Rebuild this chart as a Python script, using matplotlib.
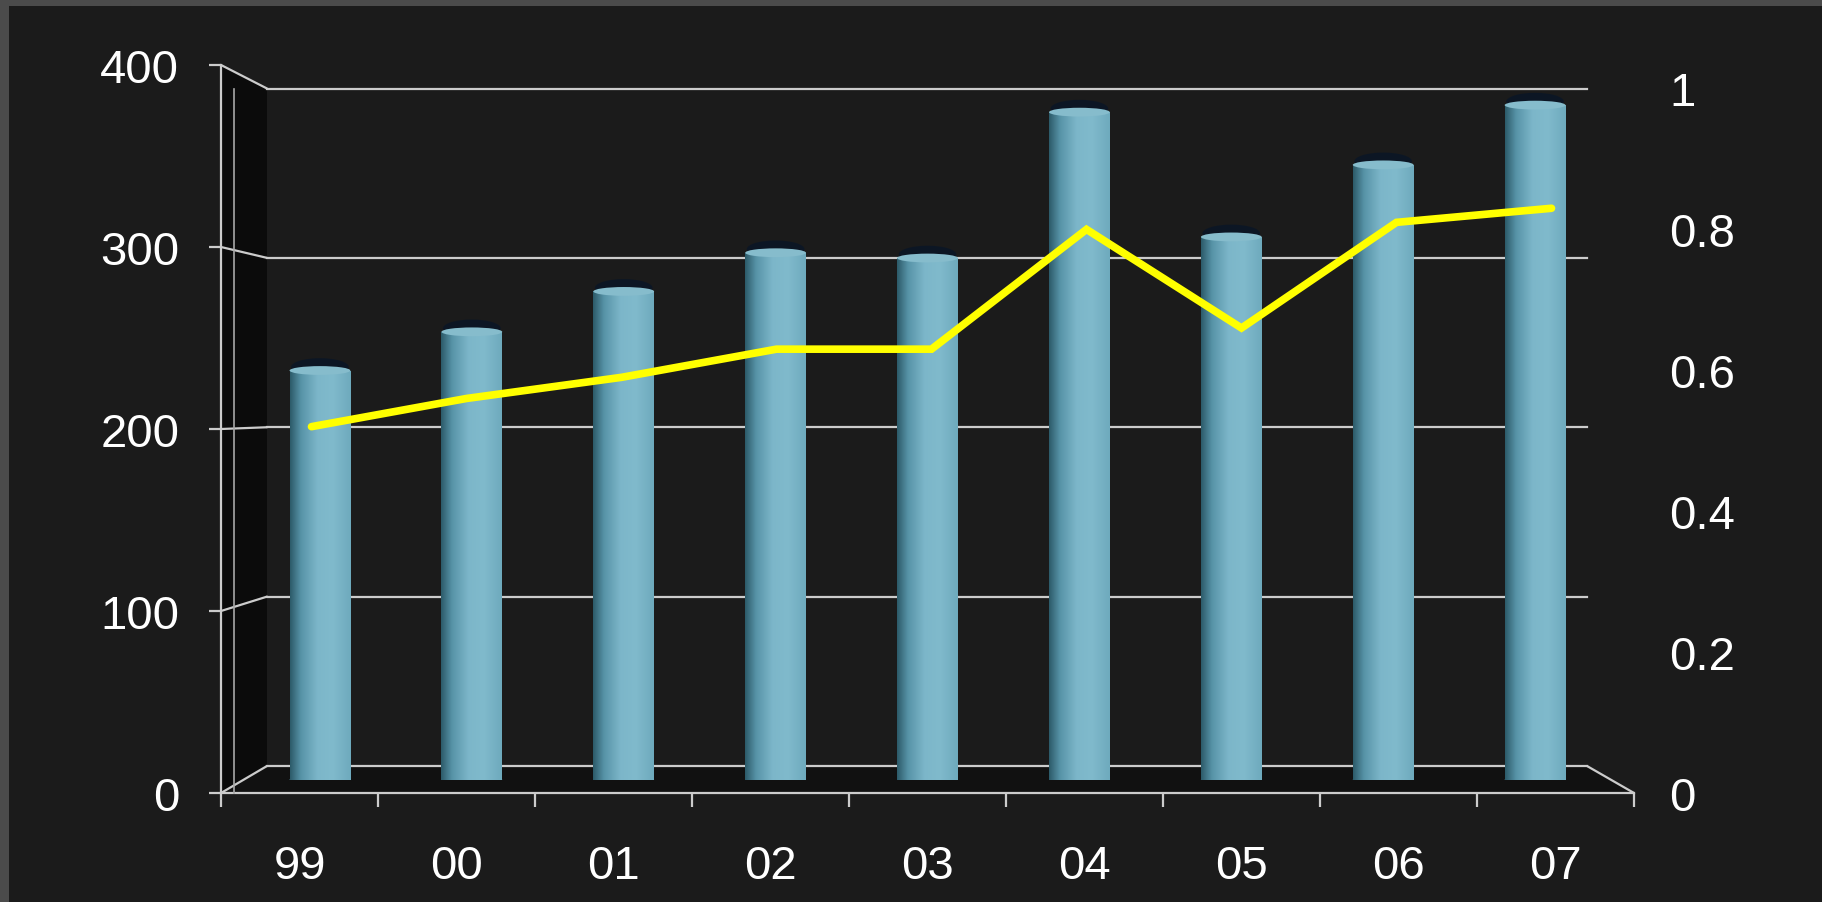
import numpy as np
import matplotlib.pyplot as plt
from matplotlib.patches import Ellipse, Polygon, Rectangle, ConnectionPatch
from matplotlib.colors import LinearSegmentedColormap

# yearly values: columns on the left scale, line on the right scale
years = ['99', '00', '01', '02', '03', '04', '05', '06', '07']
volume = [233, 255, 278, 300, 297, 380, 309, 350, 384]
ratio = [0.52, 0.56, 0.59, 0.63, 0.63, 0.80, 0.66, 0.81, 0.83]

left_ticks = [0, 100, 200, 300, 400]
right_ticks = [0, 0.2, 0.4, 0.6, 0.8, 1.0]
right_labels = ['0', '0.2', '0.4', '0.6', '0.8', '1']

BG = '#1b1b1b'
GRID = '#cccccc'
plt.rcParams['font.family'] = ['Liberation Sans', 'DejaVu Sans']

W, H = 1822, 903
fig = plt.figure(figsize=(W / 100, H / 100), dpi=100, facecolor=BG)


def box(x0, x1, y0, ytop):
    # pixel box -> figure fraction [left, bottom, width, height]
    return [x0 / W, 1 - y0 / H, (x1 - x0) / W, (y0 - ytop) / H]


# one axes per depth plane of the pseudo 3d chart
ax_back = fig.add_axes(box(267, 1587, 767, 89.5), zorder=1)
ax_bar = fig.add_axes(box(244, 1611, 781, 78), zorder=2)
ax_front = fig.add_axes(box(221, 1634, 794, 66), zorder=3)
ax_line = fig.add_axes(box(234, 1629, 794, 89.5), zorder=4)

n = len(years)
xc = np.arange(n) + 0.5

for ax in (ax_back, ax_bar, ax_front, ax_line):
    ax.set_facecolor('none')
    ax.set_xlim(0, n)
for ax in (ax_back, ax_bar, ax_front):
    ax.set_ylim(0, 400)
ax_line.set_ylim(0, 1)


def to_fig(ax, x, y):
    return fig.transFigure.inverted().transform(ax.transData.transform((x, y)))


# side wall and floor
side = [to_fig(ax_front, 0, 0), to_fig(ax_front, 0, 400),
        to_fig(ax_back, 0, 400), to_fig(ax_back, 0, 0)]
floor = [to_fig(ax_front, 0, 0), to_fig(ax_front, n, 0),
         to_fig(ax_back, n, 0), to_fig(ax_back, 0, 0)]
fig.add_artist(Polygon(side, closed=True, transform=fig.transFigure,
                       facecolor='#0b0b0b', edgecolor='none', zorder=0.5))
fig.add_artist(Polygon(floor, closed=True, transform=fig.transFigure,
                       facecolor='#111111', edgecolor='none', zorder=0.5))

# back wall gridlines
ax_back.axis('off')
for v in left_ticks:
    ax_back.axhline(v, color=GRID, lw=1.6, clip_on=False)

# cylinders
ax_bar.axis('off')
cyl = LinearSegmentedColormap.from_list(
    'cyl', [(0, '#2c5a69'), (0.18, '#5793a7'), (0.45, '#7cb6c9'),
            (0.7, '#80bacc'), (1, '#6eaabd')])
grad = np.linspace(0, 1, 256).reshape(1, -1)
bars = ax_bar.bar(xc, volume, width=0.4, color='#6aa9be', zorder=2)
for b in bars:
    x0, w, h = b.get_x(), b.get_width(), b.get_height()
    im = ax_bar.imshow(grad, extent=(x0, x0 + w, 0, h), aspect='auto',
                       cmap=cyl, zorder=2.1)
    im.set_clip_path(b)
    ax_bar.add_patch(Ellipse((x0 + w / 2, 0), w, 8, facecolor='#5896aa',
                             edgecolor='none', zorder=1.9))
    ax_bar.add_patch(Ellipse((x0 + w / 2, h + 2), w * 0.95, 10,
                             facecolor='#0a1626', edgecolor='none',
                             alpha=0.85, zorder=1.8))
    ax_bar.add_patch(Ellipse((x0 + w / 2, h), w, 5, facecolor='#86bccc',
                             edgecolor='none', zorder=2.2))
ax_bar.set_xlim(0, n)
ax_bar.set_ylim(0, 400)

# front frame with the category and left value axes
for s in ('top', 'right'):
    ax_front.spines[s].set_visible(False)
for s in ('left', 'bottom'):
    ax_front.spines[s].set_color(GRID)
    ax_front.spines[s].set_linewidth(1.6)
ax_front.set_yticks(left_ticks)
ax_front.set_yticklabels([str(v) for v in left_ticks])
ax_front.tick_params(axis='y', colors=GRID, labelcolor='white', length=9,
                     width=1.6, pad=21, labelsize=34)
ax_front.set_xticks(np.arange(n + 1))
ax_front.set_xticklabels([])
ax_front.set_xticks(xc, minor=True)
ax_front.set_xticklabels(years, minor=True)
ax_front.tick_params(axis='x', which='major', colors=GRID, length=10,
                     width=1.6)
ax_front.tick_params(axis='x', which='minor', length=0, pad=37,
                     labelcolor='white', labelsize=34)

# corner edges joining the front axis to the back wall
for v in left_ticks:
    fig.add_artist(ConnectionPatch((0, v), (0, v), 'data', 'data',
                                   axesA=ax_front, axesB=ax_back,
                                   color=GRID, lw=1.6, zorder=3))
fig.add_artist(ConnectionPatch((n, 0), (n, 0), 'data', 'data',
                               axesA=ax_front, axesB=ax_back,
                               color=GRID, lw=1.6, zorder=3))

# line on the secondary scale
ax_line.plot(xc, ratio, color='#ffff00', lw=5.5, solid_joinstyle='miter',
             solid_capstyle='round', zorder=5)
for s in ('top', 'right', 'bottom'):
    ax_line.spines[s].set_visible(False)
ax_line.spines['left'].set_color('#a8a8a8')
ax_line.spines['left'].set_linewidth(1.2)
ax_line.set_xticks([])
ax_line.yaxis.tick_right()
ax_line.set_yticks(right_ticks)
ax_line.set_yticklabels(right_labels)
ax_line.tick_params(axis='y', length=0, pad=29, labelcolor='white',
                    labelsize=34)

# screen frame edges
fig.add_artist(Rectangle((0, 1 - 7 / H), 1, 7 / H, transform=fig.transFigure,
                         facecolor='#4b4b4b', edgecolor='none', zorder=10))
fig.add_artist(Rectangle((0, 0), 9 / W, 1, transform=fig.transFigure,
                         facecolor='#4b4b4b', edgecolor='none', zorder=10))

fig.savefig('out.png', dpi=100, facecolor=BG)
